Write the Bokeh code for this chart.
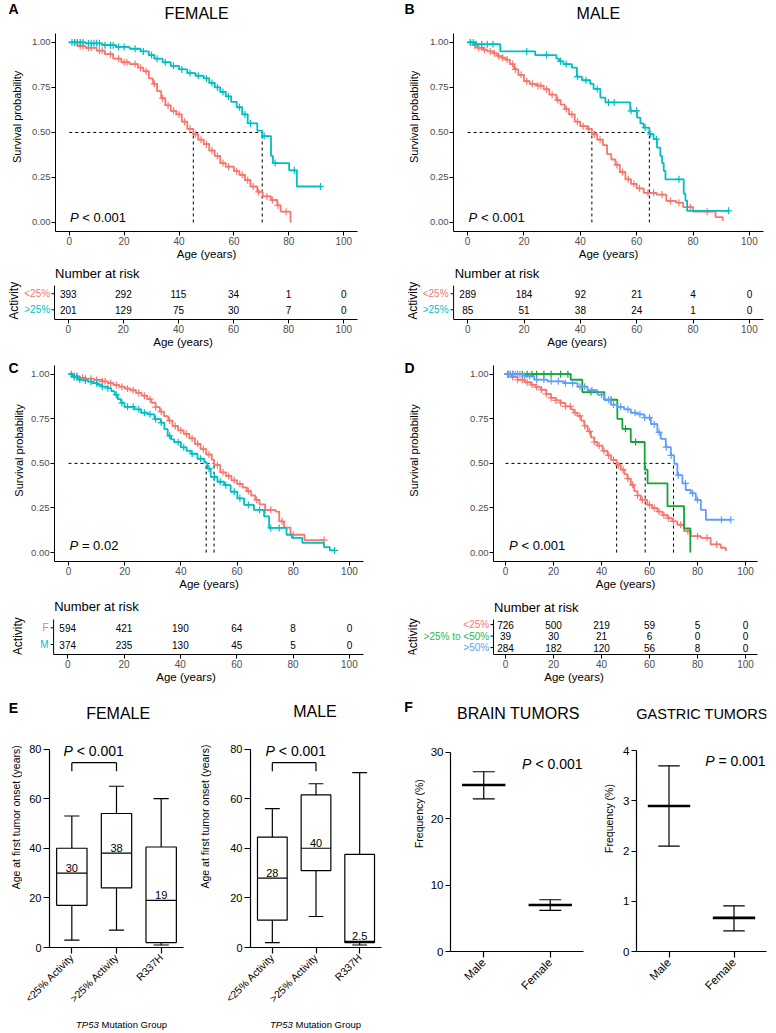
import numpy as np
from bokeh.plotting import figure
from bokeh.models import Range1d, FixedTicker, Spacer
from bokeh.layouts import row, column
from bokeh.core.properties import value
from bokeh.embed import file_html
from bokeh.resources import INLINE

FONT = "Liberation Sans"
RED = "#F8766D"; TEAL = "#00BFC4"; GREEN = "#12A537"; BLUE = "#619CFF"

# ---------------- DATA ----------------
ages_ticks = [0, 20, 40, 60, 80, 100]
surv_ticks = [0, 0.25, 0.5, 0.75, 1.0]
surv_tick_labels = ["0.00", "0.25", "0.50", "0.75", "1.00"]

# Panel A (female)
A_lo_t = [0, 3, 6, 10, 13, 16, 19, 22, 25, 27, 29, 30.5, 32, 33.5, 35, 37, 39, 41, 43, 45.2, 47, 49, 51, 53, 55, 57, 60, 62, 64, 66, 68.5, 70.5, 73.5, 75.8, 77, 80.6]
A_lo_s = [1.0, .98, .97, .955, .935, .91, .89, .88, .86, .84, .8, .77, .73, .69, .65, .62, .6, .56, .52, .49, .46, .435, .4, .37, .33, .31, .285, .265, .235, .2, .17, .145, .125, .095, .06, 0.0]
A_lo_c = [2, 4, 5, 7, 8, 11, 12, 15, 18, 20, 21, 24, 26, 28, 31, 34, 36, 38, 40, 42, 44, 46, 48, 50, 52, 54, 56, 58, 61, 63, 65, 67, 69, 72, 74, 76, 79]
A_hi_t = [0, 6, 12, 17, 22, 26, 29, 31, 34, 37, 40, 43, 46, 49, 51, 53, 55, 57, 59, 61, 63, 65, 68.5, 70.3, 73.5, 74.2, 80.1, 82.9, 91.5]
A_hi_s = [1.0, .995, .985, .975, .965, .95, .93, .91, .89, .87, .85, .83, .815, .8, .775, .75, .725, .7, .67, .64, .6, .55, .51, .48, .37, .33, .29, .2, .2]
A_hi_c = [1, 2, 3, 4, 5, 7, 8, 9, 10, 11, 13, 15, 16, 18, 20, 24, 27, 30, 32, 35, 38, 41, 44, 47, 50, 52, 54, 56, 58, 62, 64, 66, 71, 75, 82, 91.5]
A_medians = [45.2, 70.3]
A_risk_lo = [393, 292, 115, 34, 1, 0]
A_risk_hi = [201, 129, 75, 30, 7, 0]

# Panel B (male)
B_lo_t = [0, 2, 3.5, 5.5, 7, 9, 10.5, 12, 13.5, 15, 16.5, 18, 20, 22, 24.5, 27, 29, 31.5, 33, 34.5, 36, 38, 40, 42.5, 44.1, 46, 48, 49.5, 51, 52.5, 54, 56, 58, 60, 62.5, 67, 70.5, 74, 76.5, 80, 88, 90.5]
B_lo_s = [1, .985, .97, .96, .95, .94, .925, .915, .905, .88, .85, .82, .785, .77, .76, .74, .71, .68, .655, .63, .6, .56, .535, .52, .49, .46, .43, .38, .35, .32, .28, .24, .215, .19, .165, .155, .12, .11, .085, .06, .03, .01]
B_lo_c = [1, 2.5, 4, 5, 6, 8, 9.5, 11, 12.5, 14, 16, 17, 19, 21, 23, 25, 26, 28, 30, 32, 35, 37, 39, 41, 43, 45, 47, 53, 55, 57, 59, 61, 64, 66, 69, 72, 75, 79, 85]
B_hi_t = [0, 3, 11.6, 24, 31.5, 32.5, 34, 37, 38.8, 40.6, 43.5, 44.7, 47.1, 48.9, 57.7, 60.1, 61.3, 62.5, 64.5, 66, 67.2, 68.4, 69, 69.6, 70.2, 76.7, 77.3, 77.9, 92.6]
B_hi_s = [1, .99, .95, .93, .91, .895, .88, .86, .81, .79, .77, .742, .694, .667, .62, .583, .55, .527, .49, .463, .416, .37, .33, .287, .24, .16, .122, .065, .065]
B_hi_c = [1, 2, 3, 5, 7, 9, 21, 28, 33, 35, 39, 42, 46, 50, 52, 58, 60, 63, 65, 67, 75, 92.6]
B_medians = [44.1, 64.5]
B_risk_lo = [289, 184, 92, 21, 4, 0]
B_risk_hi = [85, 51, 38, 24, 1, 0]

# Panel C (female vs male)
C_f_t = [0, 2, 3.5, 6, 9, 12, 14, 16, 18, 20, 22, 24, 26, 28, 29.5, 31, 32.5, 34, 35.5, 37, 39, 41, 43, 45, 47, 49, 51, 51.8, 54, 56, 58, 60, 62, 63.5, 65, 66.5, 68, 70, 73.7, 75, 76.7, 79, 84, 91]
C_f_s = [1, .99, .98, .975, .968, .96, .95, .94, .93, .92, .91, .895, .88, .86, .84, .815, .79, .765, .74, .71, .685, .665, .64, .61, .58, .55, .52, .49, .45, .43, .405, .385, .365, .345, .32, .295, .27, .24, .23, .175, .14, .10, .07, .07]
C_f_c = [2, 3, 5, 6, 8, 10, 12, 13, 15, 17, 19, 21, 23, 25, 27, 29, 31, 33, 36, 38, 40, 42, 44, 46, 48, 50, 53, 55, 57, 59, 61, 64, 67, 70, 72, 76, 80, 91]
C_m_t = [0, 1.5, 3.3, 5, 6.9, 8.5, 10.4, 12, 14, 15.2, 16.4, 17.5, 18.7, 19.9, 23.4, 25.8, 28.2, 30.6, 32.9, 34.1, 35.3, 36.5, 37.6, 40, 42, 43.6, 45.9, 48.3, 49, 49.5, 50.6, 53, 55.4, 57.7, 60.1, 62.5, 66, 69.6, 71.4, 77.6, 79.5, 83.2, 90.9, 93, 94.7]
C_m_s = [1, .985, .97, .965, .959, .95, .94, .93, .922, .905, .885, .86, .839, .817, .803, .784, .775, .748, .729, .692, .655, .635, .619, .59, .57, .554, .526, .508, .5, .471, .424, .397, .378, .341, .304, .267, .24, .203, .138, .1, .083, .055, .031, .012, .012]
C_m_c = [1, 2, 3, 4, 6, 8, 10, 12, 14, 17, 19, 21, 23, 25, 27, 29, 31, 33, 36, 39, 41, 44, 47, 50, 52, 54, 56, 59, 61, 64, 68, 72, 75, 94.7]
C_medians = [51.8, 49.0]
C_risk_f = [594, 421, 190, 64, 8, 0]
C_risk_m = [374, 235, 130, 45, 5, 0]

# Panel D (three activity groups)
D_lo_t = [0, 2.5, 5, 8, 10.6, 12.5, 14.7, 17, 18.9, 21, 23, 25, 27.2, 28.5, 30, 31.5, 32.8, 34.2, 35.6, 37, 38.3, 40.5, 42.5, 44, 46.3, 48, 49.5, 50.8, 52.2, 53.6, 55, 56.4, 59.1, 61, 63.3, 65.5, 67.5, 69.5, 71.6, 74.4, 77.2, 81.4, 85.5, 89.7, 91.8]
D_lo_s = [1, .985, .969, .955, .941, .928, .913, .89, .867, .853, .839, .82, .803, .785, .766, .74, .711, .68, .646, .62, .6, .57, .545, .52, .49, .465, .44, .415, .38, .345, .32, .295, .267, .25, .23, .21, .193, .175, .156, .12, .092, .083, .046, .027, .009]
D_lo_c = [1, 2, 3, 5, 7, 9, 11, 13, 15, 17, 19, 21, 23, 25, 27, 29, 31, 33, 35, 37, 39, 41, 43, 45, 47, 49, 51, 53, 55, 57, 60, 62, 64, 66, 68, 70, 73, 76, 80, 84, 88]
D_mid_t = [0, 27.2, 32, 41.2, 46.6, 48.7, 52.2, 58, 59.2, 67.5, 74.4, 77]
D_mid_s = [1, .969, .9, .857, .75, .694, .62, .465, .388, .26, .135, 0.0]
D_mid_c = [1, 3, 5, 7, 9, 11, 13, 16, 19, 23, 26, 35.6, 44, 50, 54.2]
D_hi_t = [0, 7.8, 12, 17.5, 24.4, 30, 34.2, 38.3, 41.1, 43.9, 46.6, 49.4, 52.2, 55, 57.8, 60.6, 63.3, 64.7, 66.8, 68.9, 70.3, 71.6, 73.7, 75.1, 77.2, 79.3, 81.4, 83.5, 93.9]
D_hi_s = [1, .99, .97, .96, .95, .93, .91, .886, .857, .83, .817, .803, .784, .775, .757, .72, .674, .637, .591, .545, .498, .434, .388, .351, .332, .295, .24, .184, .184]
D_hi_c = [1, 2, 3, 4, 5, 6, 8, 10, 13, 16, 19, 22, 25, 28, 31, 33, 36, 40, 43, 45, 48, 51, 54, 56, 58, 60, 62, 64, 67, 69, 72, 75, 78, 80, 90, 93.9]
D_medians = [46.3, 58.2, 70.0]
D_risk_lo = [726, 500, 219, 59, 5, 0]
D_risk_mid = [39, 30, 21, 6, 0, 0]
D_risk_hi = [284, 182, 120, 56, 8, 0]

# Panel E (box plots)
E_cats = ["<25% Activity", ">25% Activity", "R337H"]
E_f_lo = [3, 7, 1]; E_f_q1 = [17, 24, 2]; E_f_med = [30, 38, 19]; E_f_q3 = [40, 54, 40.5]; E_f_hi = [53, 65, 60]
E_m_lo = [2, 12.5, 1]; E_m_q1 = [11, 31, 2]; E_m_med = [28, 40, 2.5]; E_m_q3 = [44.5, 61.5, 37.5]; E_m_hi = [56, 66, 70.5]
E_ticks = [0, 20, 40, 60, 80]

# Panel F (frequency with error bars)
F_cats = ["Male", "Female"]
F_brain_mean = [25.1, 7.0]; F_brain_lo = [23.0, 6.2]; F_brain_hi = [27.1, 7.8]
F_gas_mean = [2.9, 0.67]; F_gas_lo = [2.1, 0.41]; F_gas_hi = [3.7, 0.91]
F_brain_ticks = [0, 10, 20, 30]
F_gas_ticks = [0, 1, 2, 3, 4]


# ---------------- HELPERS ----------------
def base_fig(w, h, mbl, mbr, mbt, mbb, xr, yr, yaxis=True):
    p = figure(width=w, height=h, x_range=Range1d(*xr), y_range=Range1d(*yr),
               output_backend="svg", toolbar_location=None, tools="",
               y_axis_location=("left" if yaxis else None),
               min_border_left=mbl, min_border_right=mbr,
               min_border_top=mbt, min_border_bottom=mbb)
    p.outline_line_color = None
    p.xgrid.visible = False
    p.ygrid.visible = False
    p.background_fill_color = "white"
    p.border_fill_color = "white"
    return p


def strip(w, h):
    """Text-only figure whose frame fills the whole canvas (pixel-like ranges)."""
    p = figure(width=w, height=h, x_range=Range1d(0, w), y_range=Range1d(0, h),
               output_backend="svg", toolbar_location=None, tools="",
               x_axis_location=None, y_axis_location=None,
               min_border_left=0, min_border_right=0, min_border_top=0, min_border_bottom=0)
    p.outline_line_color = None
    p.xgrid.visible = False
    p.ygrid.visible = False
    p.background_fill_color = "white"
    p.border_fill_color = "white"
    return p


def style_axis(ax, ticks, labels=None, size=10, color="#4D4D4D", tick_out=4,
               standoff=1, lw=1, axis_color="black"):
    ax.ticker = FixedTicker(ticks=ticks)
    if labels is not None:
        ax.major_label_overrides = {t: l for t, l in zip(ticks, labels)}
    ax.minor_tick_line_color = None
    ax.major_tick_in = 0
    ax.major_tick_out = tick_out
    ax.major_label_standoff = standoff
    ax.axis_line_color = axis_color
    ax.axis_line_width = lw
    ax.major_tick_line_color = axis_color
    ax.major_tick_line_width = lw
    ax.major_label_text_font = FONT
    ax.major_label_text_font_size = f"{size}px"
    ax.major_label_text_color = color
    ax.axis_label_text_font = FONT
    ax.axis_label_text_font_style = "normal"
    ax.axis_label_text_color = "black"


def gtext(p, x, y, text, size, color="black", align="left", baseline="middle",
          style="normal", angle=0, x_offset=0):
    p.text(x=[x], y=[y], text=[text], text_font=value(FONT), text_font_size=f"{size}px",
           text_color=color, text_align=align, text_baseline=baseline,
           text_font_style=style, angle=angle, x_offset=x_offset)


def stext(p, x, ytop, text, size, **kw):
    gtext(p, x, p.height - ytop, text, size, **kw)


def step_at(t, s, c):
    t = np.asarray(t); s = np.asarray(s)
    idx = np.searchsorted(t, np.asarray(c), side="right") - 1
    return s[np.clip(idx, 0, len(s) - 1)]


def km_fig(w, h, mbl, mbr, mbb, ytop, series, medians):
    p = base_fig(w, h, mbl, mbr, 0, mbb, (-5, 105), (-0.05, ytop))
    style_axis(p.xaxis[0], ages_ticks, size=10)
    p.xaxis.axis_label = "Age (years)"
    p.xaxis.axis_label_text_font_size = "11.5px"
    p.xaxis.axis_label_standoff = 0
    style_axis(p.yaxis[0], surv_ticks, surv_tick_labels, size=9.5)
    p.yaxis.bounds = (-0.05, 1.05)
    p.segment(x0=[0], y0=[0.5], x1=[max(medians)], y1=[0.5], line_color="black",
              line_width=1, line_dash="3 3")
    p.segment(x0=medians, y0=[0] * len(medians), x1=medians, y1=[0.5] * len(medians),
              line_color="black", line_width=1, line_dash="3 3")
    for t, s, c, col in series:
        p.step(x=t, y=s, mode="after", line_color=col, line_width=1.8)
        p.scatter(x=c, y=step_at(t, s, c), marker="cross", size=7, line_color=col,
                  line_width=1.2)
    return p


def risk_fig(w, h, mbr, mbb, xleft, yr, ytop_bound, rows, tick_len, label_x,
             act_x, act_y):
    """Risk table; row labels and 'Activity' live inside the frame, left of x=-5."""
    p = base_fig(w, h, 0, mbr, 0, mbb, (xleft, 105), yr, yaxis=False)
    style_axis(p.xaxis[0], ages_ticks, size=10)
    p.xaxis.bounds = (-5, 105)
    p.xaxis.axis_label = "Age (years)"
    p.xaxis.axis_label_text_font_size = "11.5px"
    p.xaxis.axis_label_standoff = 0
    ys = [r[0] for r in rows]
    # left axis line with row ticks
    p.segment(x0=[-5], y0=[yr[0]], x1=[-5], y1=[ytop_bound], line_color="black", line_width=1)
    p.segment(x0=[-5 - tick_len] * len(ys), y0=ys, x1=[-5] * len(ys), y1=ys,
              line_color="black", line_width=1)
    for y, name, col, counts in rows:
        p.text(x=ages_ticks, y=[y] * len(counts), text=[str(v) for v in counts],
               text_font=value(FONT), text_font_size="10px", text_align="center",
               text_baseline="middle", text_color="black")
        gtext(p, label_x, y, name, 10, color=col, align="right")
    gtext(p, act_x, act_y, "Activity", 12, align="center", angle=np.pi / 2)
    return p


def add_p(p, x, y, rest, size):
    gtext(p, x, y, "P", size, style="italic")
    gtext(p, x, y, rest, size, x_offset=size * 0.95)


# ---------------- PANEL A ----------------
sA = strip(21, 262)
stext(sA, 5, 10, "A", 14, align="center", style="bold")
stext(sA, 8, 132, "Survival probability", 11, align="center", angle=np.pi / 2)
kmA = km_fig(361, 262, 25, 33, 31, 1.233,
             [(A_lo_t, A_lo_s, A_lo_c, RED), (A_hi_t, A_hi_s, A_hi_c, TEAL)], A_medians)
gtext(kmA, 46.4, 1.161, "FEMALE", 16, align="center")
add_p(kmA, 0.25, 0.028, "< 0.001", 13)

tabA = risk_fig(382, 88, 33, 29, -21.7, (0.4, 3.94), 2.5,
                [(2, "<25%", RED, A_risk_lo), (1, ">25%", TEAL, A_risk_hi)],
                1.1, -6.6, -19.6, 1.56)
gtext(tabA, -4.8, 3.26, "Number at risk", 13)

# ---------------- PANEL B ----------------
sB = strip(35, 262)
stext(sB, 19, 10, "B", 14, align="center", style="bold")
stext(sB, 23, 132, "Survival probability", 11, align="center", angle=np.pi / 2)
kmB = km_fig(343, 262, 28, 5, 31, 1.233,
             [(B_lo_t, B_lo_s, B_lo_c, RED), (B_hi_t, B_hi_s, B_hi_c, TEAL)], B_medians)
gtext(kmB, 46.4, 1.161, "MALE", 16, align="center")
add_p(kmB, 0.35, 0.028, "< 0.001", 13)

tabB = risk_fig(378, 88, 5, 29, -27.4, (0.4, 3.94), 2.5,
                [(2, "<25%", RED, B_risk_lo), (1, ">25%", TEAL, B_risk_hi)],
                1.07, -6.8, -19.4, 1.56)
gtext(tabB, -4.6, 3.26, "Number at risk", 13)

# ---------------- PANEL C ----------------
sC = strip(20, 242)
stext(sC, 5, 20, "C", 14, align="center", style="bold")
stext(sC, 10, 114.7, "Survival probability", 11, align="center", angle=np.pi / 2)
kmC = km_fig(362, 242, 25, 27, 28, 1.133,
             [(C_f_t, C_f_s, C_f_c, RED), (C_m_t, C_m_s, C_m_c, TEAL)], C_medians)
add_p(kmC, 0.35, 0.037, "= 0.02", 13)

tabC = risk_fig(382, 93, 27, 31, -21.0, (0.4, 4.12), 2.5,
                [(2, "F", RED, C_risk_f), (1, "M", TEAL, C_risk_m)],
                1.07, -6.8, -17.7, 1.5)
gtext(tabC, -4.8, 3.27, "Number at risk", 13)

# ---------------- PANEL D ----------------
sD = strip(40, 242)
stext(sD, 19, 20, "D", 14, align="center", style="bold")
stext(sD, 23, 114.7, "Survival probability", 11, align="center", angle=np.pi / 2)
kmD = km_fig(338, 242, 63, 11, 28, 1.133,
             [(D_lo_t, D_lo_s, D_lo_c, RED), (D_mid_t, D_mid_s, D_mid_c, GREEN),
              (D_hi_t, D_hi_s, D_hi_c, BLUE)], D_medians)
add_p(kmD, 1.5, 0.037, "< 0.001", 13)

tabD = risk_fig(378, 93, 11, 31, -47.9, (0.4, 5.79), 3.44,
                [(3, "<25%", RED, D_risk_lo), (2, ">25% to <50%", "#2DB84A", D_risk_mid),
                 (1, ">50%", BLUE, D_risk_hi)],
                1.25, -6.8, -38.4, 1.9)
gtext(tabD, -4.75, 4.51, "Number at risk", 13)


# ---------------- PANEL E ----------------
def box_fig(w, mbl, mbr, lo, q1, med, q3, hi, ylabel_standoff=None):
    p = base_fig(w, 326, mbl, mbr, 0, 62, (-0.5, 2.5), (0, 105.6))
    xs = list(range(len(E_cats)))
    style_axis(p.xaxis[0], xs, E_cats, size=10.5, color="black", tick_out=6, standoff=2, lw=1.2)
    p.xaxis.major_label_orientation = np.pi / 4
    style_axis(p.yaxis[0], E_ticks, size=11, color="black", tick_out=6, standoff=2, lw=1.2)
    p.yaxis.bounds = (0, 80)
    if ylabel_standoff is not None:
        p.yaxis.axis_label = "Age at first tumor onset (years)"
        p.yaxis.axis_label_text_font_size = "10.5px"
        p.yaxis.axis_label_standoff = ylabel_standoff
    p.segment(x0=xs, y0=lo, x1=xs, y1=q1, line_color="black", line_width=1.2)
    p.segment(x0=xs, y0=q3, x1=xs, y1=hi, line_color="black", line_width=1.2)
    xl = [x - 0.17 for x in xs]; xr = [x + 0.17 for x in xs]
    p.segment(x0=xl, y0=lo, x1=xr, y1=lo, line_color="black", line_width=1.2)
    p.segment(x0=xl, y0=hi, x1=xr, y1=hi, line_color="black", line_width=1.2)
    p.vbar(x=xs, bottom=q1, top=q3, width=0.68, fill_color="white",
           line_color="black", line_width=1.2)
    bl = [x - 0.34 for x in xs]; br = [x + 0.34 for x in xs]
    p.segment(x0=bl, y0=med, x1=br, y1=med, line_color="black", line_width=1.2)
    p.text(x=xs, y=med, text=[f"{m:g}" for m in med], text_font=value(FONT),
           text_font_size="11px", text_align="center", text_baseline="bottom",
           y_offset=-1, text_color="black")
    p.segment(x0=[xs[0], xs[0], xs[1]], y0=[74.5, 71, 71], x1=[xs[1], xs[0], xs[1]],
              y1=[74.5, 74.5, 74.5], line_color="black", line_width=1.2)
    return p


sE = strip(14, 326)
stext(sE, 5, 28, "E", 14, align="center", style="bold")
stext(sE, 7, 164, "Age at first tumor onset (years)", 10.5, align="center", angle=np.pi / 2)
eF = box_fig(174, 27, 13, E_f_lo, E_f_q1, E_f_med, E_f_q3, E_f_hi)
gtext(eF, 1.037, 94.5, "FEMALE", 16, align="center")
add_p(eF, -0.188, 79.3, "< 0.001", 14)

eM = box_fig(194, 51, 9, E_m_lo, E_m_q1, E_m_med, E_m_q3, E_m_hi, ylabel_standoff=16)
gtext(eM, 0.976, 95.3, "MALE", 16, align="center")
add_p(eM, -0.156, 79.3, "< 0.001", 14)

sTP = strip(382, 20)
stext(sTP, 67.5, 13, "TP53", 9.5, style="italic")
stext(sTP, 67.5 + 25.5, 13, "Mutation Group", 9.5)
stext(sTP, 261.5, 13, "TP53", 9.5, style="italic")
stext(sTP, 261.5 + 25.5, 13, "Mutation Group", 9.5)


# ---------------- PANEL F ----------------
def freq_fig(w, mbl, mbr, ytop, ymax, ticks, mean, lo, hi, ylabel_standoff=None):
    p = base_fig(w, 346, mbl, mbr, 0, 80, (-0.5, 1.5), (0, ytop))
    xs = list(range(len(F_cats)))
    style_axis(p.xaxis[0], xs, F_cats, size=11.5, color="black", tick_out=6, standoff=3, lw=1.2)
    p.xaxis.major_label_orientation = np.pi / 4
    style_axis(p.yaxis[0], ticks, size=11.5, color="black", tick_out=5, standoff=2, lw=1.2)
    p.yaxis.bounds = (0, ymax)
    if ylabel_standoff is not None:
        p.yaxis.axis_label = "Frequency (%)"
        p.yaxis.axis_label_text_font_size = "10.5px"
        p.yaxis.axis_label_standoff = ylabel_standoff
    p.segment(x0=xs, y0=lo, x1=xs, y1=hi, line_color="black", line_width=1.2)
    cl = [x - 0.165 for x in xs]; cr = [x + 0.165 for x in xs]
    p.segment(x0=cl, y0=lo, x1=cr, y1=lo, line_color="black", line_width=1.2)
    p.segment(x0=cl, y0=hi, x1=cr, y1=hi, line_color="black", line_width=1.2)
    ml = [x - 0.326 for x in xs]; mr = [x + 0.326 for x in xs]
    p.segment(x0=ml, y0=mean, x1=mr, y1=mean, line_color="black", line_width=2.6)
    return p


sF = strip(35, 346)
stext(sF, 18, 28, "F", 14, align="center", style="bold")
stext(sF, 28, 166.7, "Frequency (%)", 10.5, align="center", angle=np.pi / 2)
fB = freq_fig(175, 25, 17, 40.1, 30, F_brain_ticks, F_brain_mean, F_brain_lo, F_brain_hi)
gtext(fB, 0.52, 35.9, "BRAIN TUMORS", 16, align="center")
add_p(fB, 0.577, 28.3, "< 0.001", 14)

fG = freq_fig(168, 32, 2, 5.3, 4, F_gas_ticks, F_gas_mean, F_gas_lo, F_gas_hi,
              ylabel_standoff=5)
gtext(fG, 0.507, 4.735, "GASTRIC TUMORS", 14.5, align="center")
add_p(fG, 0.557, 3.79, "= 0.001", 14)

body = column(
    row(column(row(sA, kmA), tabA), column(row(sB, kmB), tabB)),
    row(column(row(sC, kmC), tabC), column(row(sD, kmD), tabD)),
    row(column(row(sE, eF, eM), sTP), row(sF, fB, fG)),
)
layout = row(Spacer(width=8, height=10), body)

open("out.html", "w").write(file_html(layout, INLINE))
